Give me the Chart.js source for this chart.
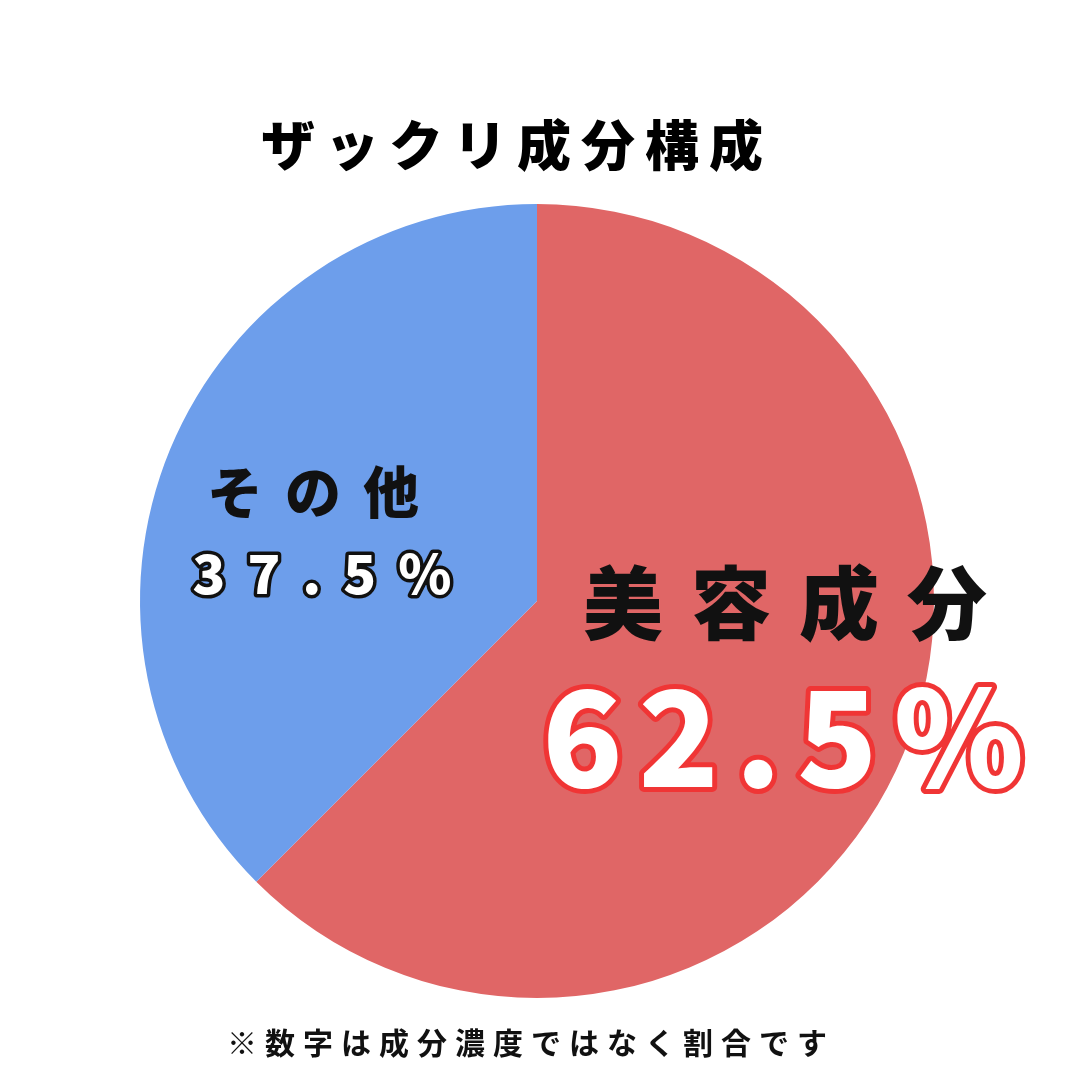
<!DOCTYPE html>
<html>
<head>
<meta charset="utf-8">
<script src="https://cdn.jsdelivr.net/npm/chart.js@4/dist/chart.umd.min.js"></script>
<style>
  html, body { margin: 0; padding: 0; background: #fff; }
  #wrap { width: 1080px; height: 1080px; position: relative; }
</style>
</head>
<body>
<div id="wrap"><canvas id="pie" width="1080" height="1080"></canvas></div>
<script>
const categories = ["美容成分", "その他"];
const shares = [62.5, 37.5];
const sliceColors = ["#E06666", "#6D9EEB"];
const titleText = "ザックリ成分構成";
const noteText = "※数字は成分濃度ではなく割合です";

const JP = '"Noto Sans CJK JP", sans-serif';

// centred text with letter spacing (spacing trails the last glyph, so shift by half)
function spaced(ctx, text, x, y, size, weight, sp, fill, stroke, lw) {
  ctx.font = `${weight} ${size}px ${JP}`;
  ctx.letterSpacing = sp + "px";
  const px = x + sp / 2;
  if (stroke) {
    ctx.lineJoin = "round";
    ctx.lineWidth = lw;
    ctx.strokeStyle = stroke;
    ctx.strokeText(text, px, y);
  }
  ctx.fillStyle = fill;
  ctx.fillText(text, px, y);
}

const labelPlugin = {
  id: "labels",
  afterDraw(chart) {
    const ctx = chart.ctx;
    ctx.save();
    ctx.textAlign = "center";
    ctx.textBaseline = "middle";
    spaced(ctx, titleText, 512, 145, 54, 900, 10, "#000");
    spaced(ctx, noteText, 527, 1043, 30, 700, 8, "#111");
    spaced(ctx, categories[1], 313, 492, 56, 900, 22, "#111");
    spaced(ctx, shares[1].toFixed(1) + "%", 322, 573, 54, 900, 22, "#fff", "#111", 7);
    spaced(ctx, categories[0], 785, 603, 80, 900, 28, "#111");
    spaced(ctx, shares[0].toFixed(1) + "%", 783, 737, 132, 900, 16, "#fff", "#F03535", 10);
    ctx.restore();
  },
};

new Chart(document.getElementById("pie"), {
  type: "pie",
  data: {
    labels: categories,
    datasets: [{ data: shares, backgroundColor: sliceColors, borderWidth: 0 }],
  },
  options: {
    responsive: false,
    animation: false,
    layout: { padding: { top: 204, bottom: 82, left: 138, right: 144 } },
    plugins: { legend: { display: false }, tooltip: { enabled: false } },
  },
  plugins: [labelPlugin],
});
</script>
</body>
</html>
